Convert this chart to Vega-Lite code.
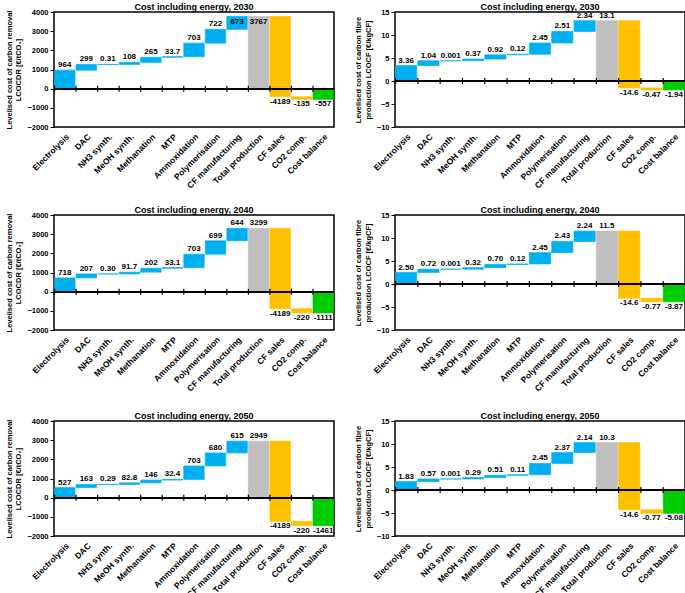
{
"$schema": "https://vega.github.io/schema/vega-lite/v6.json",
"padding": {"left": 4, "top": 2, "right": 0, "bottom": 0},
"config": {
 "font": "Liberation Sans",
 "view": {"stroke": "black", "strokeWidth": 1.5},
 "axis": {"labelFont": "Liberation Sans", "labelFontSize": 7.5, "labelFontWeight": "bold", "labelColor": "black", "titleFont": "Liberation Sans", "titleFontSize": 7.5, "titleFontWeight": "bold", "titleColor": "black", "grid": false, "tickColor": "black", "domainColor": "black", "labelOverlap": false, "labelFlush": false},
 "axisX": {"labelFontSize": 8.5},
 "axisY": {"domain": false, "tickSize": 4, "labelPadding": 2, "titlePadding": 4, "format": "d"},
 "title": {"fontSize": 9, "fontWeight": "bold", "offset": -4, "color": "black", "font": "Liberation Sans"},
 "text": {"font": "Liberation Sans", "fontSize": 8, "fontWeight": "bold", "color": "black"}
},
"datasets": {"d": [
{"panel":"L2030","cat":"Electrolysis","start":0,"end":964,"label":"964","kind":"inc"},
{"panel":"L2030","cat":"DAC","start":964,"end":1263,"label":"299","kind":"inc"},
{"panel":"L2030","cat":"NH3 synth.","start":1263,"end":1263.31,"label":"0.31","kind":"inc"},
{"panel":"L2030","cat":"MeOH synth.","start":1263.31,"end":1371.31,"label":"108","kind":"inc"},
{"panel":"L2030","cat":"Methanation","start":1371.31,"end":1636.31,"label":"265","kind":"inc"},
{"panel":"L2030","cat":"MTP","start":1636.31,"end":1670.01,"label":"33.7","kind":"inc"},
{"panel":"L2030","cat":"Ammoxidation","start":1670.01,"end":2373.01,"label":"703","kind":"inc"},
{"panel":"L2030","cat":"Polymerisation","start":2373.01,"end":3095.01,"label":"722","kind":"inc"},
{"panel":"L2030","cat":"CF manufacturing","start":3095.01,"end":3767,"label":"673","kind":"inc"},
{"panel":"L2030","cat":"Total production","start":0,"end":3767,"label":"3767","kind":"total"},
{"panel":"L2030","cat":"CF sales","start":3767,"end":-422,"label":"-4189","kind":"dec"},
{"panel":"L2030","cat":"CO2 comp.","start":-422,"end":-557,"label":"-135","kind":"dec"},
{"panel":"L2030","cat":"Cost balance","start":0,"end":-557,"label":"-557","kind":"balance"},
{"panel":"R2030","cat":"Electrolysis","start":0,"end":3.36,"label":"3.36","kind":"inc"},
{"panel":"R2030","cat":"DAC","start":3.36,"end":4.4,"label":"1.04","kind":"inc"},
{"panel":"R2030","cat":"NH3 synth.","start":4.4,"end":4.401,"label":"0.001","kind":"inc"},
{"panel":"R2030","cat":"MeOH synth.","start":4.401,"end":4.771,"label":"0.37","kind":"inc"},
{"panel":"R2030","cat":"Methanation","start":4.771,"end":5.691,"label":"0.92","kind":"inc"},
{"panel":"R2030","cat":"MTP","start":5.691,"end":5.811,"label":"0.12","kind":"inc"},
{"panel":"R2030","cat":"Ammoxidation","start":5.811,"end":8.261,"label":"2.45","kind":"inc"},
{"panel":"R2030","cat":"Polymerisation","start":8.261,"end":10.771,"label":"2.51","kind":"inc"},
{"panel":"R2030","cat":"CF manufacturing","start":10.771,"end":13.1,"label":"2.34","kind":"inc"},
{"panel":"R2030","cat":"Total production","start":0,"end":13.1,"label":"13.1","kind":"total"},
{"panel":"R2030","cat":"CF sales","start":13.1,"end":-1.5,"label":"-14.6","kind":"dec"},
{"panel":"R2030","cat":"CO2 comp.","start":-1.5,"end":-1.97,"label":"-0.47","kind":"dec"},
{"panel":"R2030","cat":"Cost balance","start":0,"end":-1.94,"label":"-1.94","kind":"balance"},
{"panel":"L2040","cat":"Electrolysis","start":0,"end":718,"label":"718","kind":"inc"},
{"panel":"L2040","cat":"DAC","start":718,"end":925,"label":"207","kind":"inc"},
{"panel":"L2040","cat":"NH3 synth.","start":925,"end":925.3,"label":"0.30","kind":"inc"},
{"panel":"L2040","cat":"MeOH synth.","start":925.3,"end":1017,"label":"91.7","kind":"inc"},
{"panel":"L2040","cat":"Methanation","start":1017,"end":1219,"label":"202","kind":"inc"},
{"panel":"L2040","cat":"MTP","start":1219,"end":1252.1,"label":"33.1","kind":"inc"},
{"panel":"L2040","cat":"Ammoxidation","start":1252.1,"end":1955.1,"label":"703","kind":"inc"},
{"panel":"L2040","cat":"Polymerisation","start":1955.1,"end":2654.1,"label":"699","kind":"inc"},
{"panel":"L2040","cat":"CF manufacturing","start":2654.1,"end":3299,"label":"644","kind":"inc"},
{"panel":"L2040","cat":"Total production","start":0,"end":3299,"label":"3299","kind":"total"},
{"panel":"L2040","cat":"CF sales","start":3299,"end":-890,"label":"-4189","kind":"dec"},
{"panel":"L2040","cat":"CO2 comp.","start":-890,"end":-1110,"label":"-220","kind":"dec"},
{"panel":"L2040","cat":"Cost balance","start":0,"end":-1111,"label":"-1111","kind":"balance"},
{"panel":"R2040","cat":"Electrolysis","start":0,"end":2.5,"label":"2.50","kind":"inc"},
{"panel":"R2040","cat":"DAC","start":2.5,"end":3.22,"label":"0.72","kind":"inc"},
{"panel":"R2040","cat":"NH3 synth.","start":3.22,"end":3.221,"label":"0.001","kind":"inc"},
{"panel":"R2040","cat":"MeOH synth.","start":3.221,"end":3.541,"label":"0.32","kind":"inc"},
{"panel":"R2040","cat":"Methanation","start":3.541,"end":4.241,"label":"0.70","kind":"inc"},
{"panel":"R2040","cat":"MTP","start":4.241,"end":4.361,"label":"0.12","kind":"inc"},
{"panel":"R2040","cat":"Ammoxidation","start":4.361,"end":6.811,"label":"2.45","kind":"inc"},
{"panel":"R2040","cat":"Polymerisation","start":6.811,"end":9.241,"label":"2.43","kind":"inc"},
{"panel":"R2040","cat":"CF manufacturing","start":9.241,"end":11.5,"label":"2.24","kind":"inc"},
{"panel":"R2040","cat":"Total production","start":0,"end":11.5,"label":"11.5","kind":"total"},
{"panel":"R2040","cat":"CF sales","start":11.5,"end":-3.1,"label":"-14.6","kind":"dec"},
{"panel":"R2040","cat":"CO2 comp.","start":-3.1,"end":-3.87,"label":"-0.77","kind":"dec"},
{"panel":"R2040","cat":"Cost balance","start":0,"end":-3.87,"label":"-3.87","kind":"balance"},
{"panel":"L2050","cat":"Electrolysis","start":0,"end":527,"label":"527","kind":"inc"},
{"panel":"L2050","cat":"DAC","start":527,"end":690,"label":"163","kind":"inc"},
{"panel":"L2050","cat":"NH3 synth.","start":690,"end":690.29,"label":"0.29","kind":"inc"},
{"panel":"L2050","cat":"MeOH synth.","start":690.29,"end":773.09,"label":"82.8","kind":"inc"},
{"panel":"L2050","cat":"Methanation","start":773.09,"end":919.09,"label":"146","kind":"inc"},
{"panel":"L2050","cat":"MTP","start":919.09,"end":951.49,"label":"32.4","kind":"inc"},
{"panel":"L2050","cat":"Ammoxidation","start":951.49,"end":1654.49,"label":"703","kind":"inc"},
{"panel":"L2050","cat":"Polymerisation","start":1654.49,"end":2334.49,"label":"680","kind":"inc"},
{"panel":"L2050","cat":"CF manufacturing","start":2334.49,"end":2949,"label":"615","kind":"inc"},
{"panel":"L2050","cat":"Total production","start":0,"end":2949,"label":"2949","kind":"total"},
{"panel":"L2050","cat":"CF sales","start":2949,"end":-1240,"label":"-4189","kind":"dec"},
{"panel":"L2050","cat":"CO2 comp.","start":-1240,"end":-1460,"label":"-220","kind":"dec"},
{"panel":"L2050","cat":"Cost balance","start":0,"end":-1461,"label":"-1461","kind":"balance"},
{"panel":"R2050","cat":"Electrolysis","start":0,"end":1.83,"label":"1.83","kind":"inc"},
{"panel":"R2050","cat":"DAC","start":1.83,"end":2.4,"label":"0.57","kind":"inc"},
{"panel":"R2050","cat":"NH3 synth.","start":2.4,"end":2.401,"label":"0.001","kind":"inc"},
{"panel":"R2050","cat":"MeOH synth.","start":2.401,"end":2.691,"label":"0.29","kind":"inc"},
{"panel":"R2050","cat":"Methanation","start":2.691,"end":3.201,"label":"0.51","kind":"inc"},
{"panel":"R2050","cat":"MTP","start":3.201,"end":3.311,"label":"0.11","kind":"inc"},
{"panel":"R2050","cat":"Ammoxidation","start":3.311,"end":5.761,"label":"2.45","kind":"inc"},
{"panel":"R2050","cat":"Polymerisation","start":5.761,"end":8.131,"label":"2.37","kind":"inc"},
{"panel":"R2050","cat":"CF manufacturing","start":8.131,"end":10.3,"label":"2.14","kind":"inc"},
{"panel":"R2050","cat":"Total production","start":0,"end":10.3,"label":"10.3","kind":"total"},
{"panel":"R2050","cat":"CF sales","start":10.3,"end":-4.3,"label":"-14.6","kind":"dec"},
{"panel":"R2050","cat":"CO2 comp.","start":-4.3,"end":-5.07,"label":"-0.77","kind":"dec"},
{"panel":"R2050","cat":"Cost balance","start":0,"end":-5.08,"label":"-5.08","kind":"balance"}
]},
"data": {"name": "d"},
"spacing": 14,
"vconcat": [
{"hconcat": [
{"title": "Cost including energy, 2030", "width": 280, "height": 115,
 "transform": [{"filter": "datum.panel == 'L2030'"}],
 "layer": [
  {"mark": {"type": "bar", "strokeWidth": 0.7},
   "encoding": {
    "x": {"field": "cat", "type": "nominal", "sort": ["Electrolysis","DAC","NH3 synth.","MeOH synth.","Methanation","MTP","Ammoxidation","Polymerisation","CF manufacturing","Total production","CF sales","CO2 comp.","Cost balance"], "scale": {"paddingInner": 0.05, "paddingOuter": 0.025}, "axis": {"title": null, "labelAngle": -45, "ticks": false, "domain": false, "labelPadding": 5}},
    "y": {"field": "start", "type": "quantitative", "scale": {"domain": [-2000, 4000], "nice": false}, "title": ["Levelised cost of carbon removal", "LCOCDR [€/tCO₂]"], "axis": {"values": [-2000,-1000,0,1000,2000,3000,4000]}},
    "y2": {"field": "end"},
    "fill": {"field": "kind", "type": "nominal", "scale": {"domain": ["inc","total","dec","balance"], "range": ["#00B0F0","#BFBFBF","#FFC000","#00CC00"]}, "legend": null},
    "stroke": {"field": "kind", "type": "nominal", "scale": {"domain": ["inc","total","dec","balance"], "range": ["#00B0F0","#BFBFBF","#FFC000","#00CC00"]}, "legend": null}
   }},
  {"mark": {"type": "rule", "color": "black", "strokeWidth": 1.5}, "encoding": {"y": {"datum": 0, "type": "quantitative", "title": ["Levelised cost of carbon removal", "LCOCDR [€/tCO₂]"], "axis": {"values": [-2000,-1000,0,1000,2000,3000,4000]}}}},
  {"mark": {"type": "rule", "color": "black", "strokeWidth": 1.2, "yOffset": -3, "y2Offset": 3},
   "encoding": {"x": {"field": "cat", "type": "nominal", "sort": ["Electrolysis","DAC","NH3 synth.","MeOH synth.","Methanation","MTP","Ammoxidation","Polymerisation","CF manufacturing","Total production","CF sales","CO2 comp.","Cost balance"], "bandPosition": 0}, "y": {"datum": 0, "type": "quantitative", "title": ["Levelised cost of carbon removal", "LCOCDR [€/tCO₂]"], "axis": {"values": [-2000,-1000,0,1000,2000,3000,4000]}}, "y2": {"datum": 0}}},
  {"transform": [{"filter": "(datum.kind == 'inc' || datum.kind == 'total') && datum.end < 3500"}],
   "mark": {"type": "text", "baseline": "bottom", "dy": -1},
   "encoding": {"x": {"field": "cat", "type": "nominal", "sort": ["Electrolysis","DAC","NH3 synth.","MeOH synth.","Methanation","MTP","Ammoxidation","Polymerisation","CF manufacturing","Total production","CF sales","CO2 comp.","Cost balance"]}, "y": {"field": "end", "type": "quantitative", "title": ["Levelised cost of carbon removal", "LCOCDR [€/tCO₂]"], "axis": {"values": [-2000,-1000,0,1000,2000,3000,4000]}}, "text": {"field": "label"}}},
  {"transform": [{"filter": "(datum.kind == 'inc' || datum.kind == 'total') && datum.end >= 3500"}],
   "mark": {"type": "text", "baseline": "top", "dy": 2},
   "encoding": {"x": {"field": "cat", "type": "nominal", "sort": ["Electrolysis","DAC","NH3 synth.","MeOH synth.","Methanation","MTP","Ammoxidation","Polymerisation","CF manufacturing","Total production","CF sales","CO2 comp.","Cost balance"]}, "y": {"field": "end", "type": "quantitative", "title": ["Levelised cost of carbon removal", "LCOCDR [€/tCO₂]"], "axis": {"values": [-2000,-1000,0,1000,2000,3000,4000]}}, "text": {"field": "label"}}},
  {"transform": [{"filter": "datum.kind == 'dec' || datum.kind == 'balance'"}],
   "mark": {"type": "text", "baseline": "top", "dy": 1},
   "encoding": {"x": {"field": "cat", "type": "nominal", "sort": ["Electrolysis","DAC","NH3 synth.","MeOH synth.","Methanation","MTP","Ammoxidation","Polymerisation","CF manufacturing","Total production","CF sales","CO2 comp.","Cost balance"]}, "y": {"field": "end", "type": "quantitative", "title": ["Levelised cost of carbon removal", "LCOCDR [€/tCO₂]"], "axis": {"values": [-2000,-1000,0,1000,2000,3000,4000]}}, "text": {"field": "label"}}}
 ]},
{"title": "Cost including energy, 2030", "width": 290, "height": 115,
 "transform": [{"filter": "datum.panel == 'R2030'"}],
 "layer": [
  {"mark": {"type": "bar", "strokeWidth": 0.7},
   "encoding": {
    "x": {"field": "cat", "type": "nominal", "sort": ["Electrolysis","DAC","NH3 synth.","MeOH synth.","Methanation","MTP","Ammoxidation","Polymerisation","CF manufacturing","Total production","CF sales","CO2 comp.","Cost balance"], "scale": {"paddingInner": 0.05, "paddingOuter": 0.025}, "axis": {"title": null, "labelAngle": -45, "ticks": false, "domain": false, "labelPadding": 5}},
    "y": {"field": "start", "type": "quantitative", "scale": {"domain": [-10, 15], "nice": false}, "title": ["Levelised cost of carbon fibre", "production LCOCF [€/kgCF]"], "axis": {"values": [-10,-5,0,5,10,15]}},
    "y2": {"field": "end"},
    "fill": {"field": "kind", "type": "nominal", "scale": {"domain": ["inc","total","dec","balance"], "range": ["#00B0F0","#BFBFBF","#FFC000","#00CC00"]}, "legend": null},
    "stroke": {"field": "kind", "type": "nominal", "scale": {"domain": ["inc","total","dec","balance"], "range": ["#00B0F0","#BFBFBF","#FFC000","#00CC00"]}, "legend": null}
   }},
  {"mark": {"type": "rule", "color": "black", "strokeWidth": 1.5}, "encoding": {"y": {"datum": 0, "type": "quantitative", "title": ["Levelised cost of carbon fibre", "production LCOCF [€/kgCF]"], "axis": {"values": [-10,-5,0,5,10,15]}}}},
  {"mark": {"type": "rule", "color": "black", "strokeWidth": 1.2, "yOffset": -3, "y2Offset": 3},
   "encoding": {"x": {"field": "cat", "type": "nominal", "sort": ["Electrolysis","DAC","NH3 synth.","MeOH synth.","Methanation","MTP","Ammoxidation","Polymerisation","CF manufacturing","Total production","CF sales","CO2 comp.","Cost balance"], "bandPosition": 0}, "y": {"datum": 0, "type": "quantitative", "title": ["Levelised cost of carbon fibre", "production LCOCF [€/kgCF]"], "axis": {"values": [-10,-5,0,5,10,15]}}, "y2": {"datum": 0}}},
  {"transform": [{"filter": "datum.kind == 'inc' || datum.kind == 'total'"}],
   "mark": {"type": "text", "baseline": "bottom", "dy": -1},
   "encoding": {"x": {"field": "cat", "type": "nominal", "sort": ["Electrolysis","DAC","NH3 synth.","MeOH synth.","Methanation","MTP","Ammoxidation","Polymerisation","CF manufacturing","Total production","CF sales","CO2 comp.","Cost balance"]}, "y": {"field": "end", "type": "quantitative", "title": ["Levelised cost of carbon fibre", "production LCOCF [€/kgCF]"], "axis": {"values": [-10,-5,0,5,10,15]}}, "text": {"field": "label"}}},
  {"transform": [{"filter": "datum.kind == 'dec' || datum.kind == 'balance'"}],
   "mark": {"type": "text", "baseline": "top", "dy": 1},
   "encoding": {"x": {"field": "cat", "type": "nominal", "sort": ["Electrolysis","DAC","NH3 synth.","MeOH synth.","Methanation","MTP","Ammoxidation","Polymerisation","CF manufacturing","Total production","CF sales","CO2 comp.","Cost balance"]}, "y": {"field": "end", "type": "quantitative", "title": ["Levelised cost of carbon fibre", "production LCOCF [€/kgCF]"], "axis": {"values": [-10,-5,0,5,10,15]}}, "text": {"field": "label"}}}
 ]}
], "spacing": 18},
{"spacing": 17, "vconcat": [
{"hconcat": [
{"title": "Cost including energy, 2040", "width": 280, "height": 115,
 "transform": [{"filter": "datum.panel == 'L2040'"}],
 "layer": [
  {"mark": {"type": "bar", "strokeWidth": 0.7},
   "encoding": {
    "x": {"field": "cat", "type": "nominal", "sort": ["Electrolysis","DAC","NH3 synth.","MeOH synth.","Methanation","MTP","Ammoxidation","Polymerisation","CF manufacturing","Total production","CF sales","CO2 comp.","Cost balance"], "scale": {"paddingInner": 0.05, "paddingOuter": 0.025}, "axis": {"title": null, "labelAngle": -45, "ticks": false, "domain": false, "labelPadding": 5}},
    "y": {"field": "start", "type": "quantitative", "scale": {"domain": [-2000, 4000], "nice": false}, "title": ["Levelised cost of carbon removal", "LCOCDR [€/tCO₂]"], "axis": {"values": [-2000,-1000,0,1000,2000,3000,4000]}},
    "y2": {"field": "end"},
    "fill": {"field": "kind", "type": "nominal", "scale": {"domain": ["inc","total","dec","balance"], "range": ["#00B0F0","#BFBFBF","#FFC000","#00CC00"]}, "legend": null},
    "stroke": {"field": "kind", "type": "nominal", "scale": {"domain": ["inc","total","dec","balance"], "range": ["#00B0F0","#BFBFBF","#FFC000","#00CC00"]}, "legend": null}
   }},
  {"mark": {"type": "rule", "color": "black", "strokeWidth": 1.5}, "encoding": {"y": {"datum": 0, "type": "quantitative", "title": ["Levelised cost of carbon removal", "LCOCDR [€/tCO₂]"], "axis": {"values": [-2000,-1000,0,1000,2000,3000,4000]}}}},
  {"mark": {"type": "rule", "color": "black", "strokeWidth": 1.2, "yOffset": -3, "y2Offset": 3},
   "encoding": {"x": {"field": "cat", "type": "nominal", "sort": ["Electrolysis","DAC","NH3 synth.","MeOH synth.","Methanation","MTP","Ammoxidation","Polymerisation","CF manufacturing","Total production","CF sales","CO2 comp.","Cost balance"], "bandPosition": 0}, "y": {"datum": 0, "type": "quantitative", "title": ["Levelised cost of carbon removal", "LCOCDR [€/tCO₂]"], "axis": {"values": [-2000,-1000,0,1000,2000,3000,4000]}}, "y2": {"datum": 0}}},
  {"transform": [{"filter": "datum.kind == 'inc' || datum.kind == 'total'"}],
   "mark": {"type": "text", "baseline": "bottom", "dy": -1},
   "encoding": {"x": {"field": "cat", "type": "nominal", "sort": ["Electrolysis","DAC","NH3 synth.","MeOH synth.","Methanation","MTP","Ammoxidation","Polymerisation","CF manufacturing","Total production","CF sales","CO2 comp.","Cost balance"]}, "y": {"field": "end", "type": "quantitative", "title": ["Levelised cost of carbon removal", "LCOCDR [€/tCO₂]"], "axis": {"values": [-2000,-1000,0,1000,2000,3000,4000]}}, "text": {"field": "label"}}},
  {"transform": [{"filter": "datum.kind == 'dec' || datum.kind == 'balance'"}],
   "mark": {"type": "text", "baseline": "top", "dy": 1},
   "encoding": {"x": {"field": "cat", "type": "nominal", "sort": ["Electrolysis","DAC","NH3 synth.","MeOH synth.","Methanation","MTP","Ammoxidation","Polymerisation","CF manufacturing","Total production","CF sales","CO2 comp.","Cost balance"]}, "y": {"field": "end", "type": "quantitative", "title": ["Levelised cost of carbon removal", "LCOCDR [€/tCO₂]"], "axis": {"values": [-2000,-1000,0,1000,2000,3000,4000]}}, "text": {"field": "label"}}}
 ]},
{"title": "Cost including energy, 2040", "width": 290, "height": 115,
 "transform": [{"filter": "datum.panel == 'R2040'"}],
 "layer": [
  {"mark": {"type": "bar", "strokeWidth": 0.7},
   "encoding": {
    "x": {"field": "cat", "type": "nominal", "sort": ["Electrolysis","DAC","NH3 synth.","MeOH synth.","Methanation","MTP","Ammoxidation","Polymerisation","CF manufacturing","Total production","CF sales","CO2 comp.","Cost balance"], "scale": {"paddingInner": 0.05, "paddingOuter": 0.025}, "axis": {"title": null, "labelAngle": -45, "ticks": false, "domain": false, "labelPadding": 5}},
    "y": {"field": "start", "type": "quantitative", "scale": {"domain": [-10, 15], "nice": false}, "title": ["Levelised cost of carbon fibre", "production LCOCF [€/kgCF]"], "axis": {"values": [-10,-5,0,5,10,15]}},
    "y2": {"field": "end"},
    "fill": {"field": "kind", "type": "nominal", "scale": {"domain": ["inc","total","dec","balance"], "range": ["#00B0F0","#BFBFBF","#FFC000","#00CC00"]}, "legend": null},
    "stroke": {"field": "kind", "type": "nominal", "scale": {"domain": ["inc","total","dec","balance"], "range": ["#00B0F0","#BFBFBF","#FFC000","#00CC00"]}, "legend": null}
   }},
  {"mark": {"type": "rule", "color": "black", "strokeWidth": 1.5}, "encoding": {"y": {"datum": 0, "type": "quantitative", "title": ["Levelised cost of carbon fibre", "production LCOCF [€/kgCF]"], "axis": {"values": [-10,-5,0,5,10,15]}}}},
  {"mark": {"type": "rule", "color": "black", "strokeWidth": 1.2, "yOffset": -3, "y2Offset": 3},
   "encoding": {"x": {"field": "cat", "type": "nominal", "sort": ["Electrolysis","DAC","NH3 synth.","MeOH synth.","Methanation","MTP","Ammoxidation","Polymerisation","CF manufacturing","Total production","CF sales","CO2 comp.","Cost balance"], "bandPosition": 0}, "y": {"datum": 0, "type": "quantitative", "title": ["Levelised cost of carbon fibre", "production LCOCF [€/kgCF]"], "axis": {"values": [-10,-5,0,5,10,15]}}, "y2": {"datum": 0}}},
  {"transform": [{"filter": "datum.kind == 'inc' || datum.kind == 'total'"}],
   "mark": {"type": "text", "baseline": "bottom", "dy": -1},
   "encoding": {"x": {"field": "cat", "type": "nominal", "sort": ["Electrolysis","DAC","NH3 synth.","MeOH synth.","Methanation","MTP","Ammoxidation","Polymerisation","CF manufacturing","Total production","CF sales","CO2 comp.","Cost balance"]}, "y": {"field": "end", "type": "quantitative", "title": ["Levelised cost of carbon fibre", "production LCOCF [€/kgCF]"], "axis": {"values": [-10,-5,0,5,10,15]}}, "text": {"field": "label"}}},
  {"transform": [{"filter": "datum.kind == 'dec' || datum.kind == 'balance'"}],
   "mark": {"type": "text", "baseline": "top", "dy": 1},
   "encoding": {"x": {"field": "cat", "type": "nominal", "sort": ["Electrolysis","DAC","NH3 synth.","MeOH synth.","Methanation","MTP","Ammoxidation","Polymerisation","CF manufacturing","Total production","CF sales","CO2 comp.","Cost balance"]}, "y": {"field": "end", "type": "quantitative", "title": ["Levelised cost of carbon fibre", "production LCOCF [€/kgCF]"], "axis": {"values": [-10,-5,0,5,10,15]}}, "text": {"field": "label"}}}
 ]}
], "spacing": 18},
{"hconcat": [
{"title": "Cost including energy, 2050", "width": 280, "height": 115,
 "transform": [{"filter": "datum.panel == 'L2050'"}],
 "layer": [
  {"mark": {"type": "bar", "strokeWidth": 0.7},
   "encoding": {
    "x": {"field": "cat", "type": "nominal", "sort": ["Electrolysis","DAC","NH3 synth.","MeOH synth.","Methanation","MTP","Ammoxidation","Polymerisation","CF manufacturing","Total production","CF sales","CO2 comp.","Cost balance"], "scale": {"paddingInner": 0.05, "paddingOuter": 0.025}, "axis": {"title": null, "labelAngle": -45, "ticks": false, "domain": false, "labelPadding": 5}},
    "y": {"field": "start", "type": "quantitative", "scale": {"domain": [-2000, 4000], "nice": false}, "title": ["Levelised cost of carbon removal", "LCOCDR [€/tCO₂]"], "axis": {"values": [-2000,-1000,0,1000,2000,3000,4000]}},
    "y2": {"field": "end"},
    "fill": {"field": "kind", "type": "nominal", "scale": {"domain": ["inc","total","dec","balance"], "range": ["#00B0F0","#BFBFBF","#FFC000","#00CC00"]}, "legend": null},
    "stroke": {"field": "kind", "type": "nominal", "scale": {"domain": ["inc","total","dec","balance"], "range": ["#00B0F0","#BFBFBF","#FFC000","#00CC00"]}, "legend": null}
   }},
  {"mark": {"type": "rule", "color": "black", "strokeWidth": 1.5}, "encoding": {"y": {"datum": 0, "type": "quantitative", "title": ["Levelised cost of carbon removal", "LCOCDR [€/tCO₂]"], "axis": {"values": [-2000,-1000,0,1000,2000,3000,4000]}}}},
  {"mark": {"type": "rule", "color": "black", "strokeWidth": 1.2, "yOffset": -3, "y2Offset": 3},
   "encoding": {"x": {"field": "cat", "type": "nominal", "sort": ["Electrolysis","DAC","NH3 synth.","MeOH synth.","Methanation","MTP","Ammoxidation","Polymerisation","CF manufacturing","Total production","CF sales","CO2 comp.","Cost balance"], "bandPosition": 0}, "y": {"datum": 0, "type": "quantitative", "title": ["Levelised cost of carbon removal", "LCOCDR [€/tCO₂]"], "axis": {"values": [-2000,-1000,0,1000,2000,3000,4000]}}, "y2": {"datum": 0}}},
  {"transform": [{"filter": "datum.kind == 'inc' || datum.kind == 'total'"}],
   "mark": {"type": "text", "baseline": "bottom", "dy": -1},
   "encoding": {"x": {"field": "cat", "type": "nominal", "sort": ["Electrolysis","DAC","NH3 synth.","MeOH synth.","Methanation","MTP","Ammoxidation","Polymerisation","CF manufacturing","Total production","CF sales","CO2 comp.","Cost balance"]}, "y": {"field": "end", "type": "quantitative", "title": ["Levelised cost of carbon removal", "LCOCDR [€/tCO₂]"], "axis": {"values": [-2000,-1000,0,1000,2000,3000,4000]}}, "text": {"field": "label"}}},
  {"transform": [{"filter": "datum.kind == 'dec' || datum.kind == 'balance'"}],
   "mark": {"type": "text", "baseline": "top", "dy": 1},
   "encoding": {"x": {"field": "cat", "type": "nominal", "sort": ["Electrolysis","DAC","NH3 synth.","MeOH synth.","Methanation","MTP","Ammoxidation","Polymerisation","CF manufacturing","Total production","CF sales","CO2 comp.","Cost balance"]}, "y": {"field": "end", "type": "quantitative", "title": ["Levelised cost of carbon removal", "LCOCDR [€/tCO₂]"], "axis": {"values": [-2000,-1000,0,1000,2000,3000,4000]}}, "text": {"field": "label"}}}
 ]},
{"title": "Cost including energy, 2050", "width": 290, "height": 115,
 "transform": [{"filter": "datum.panel == 'R2050'"}],
 "layer": [
  {"mark": {"type": "bar", "strokeWidth": 0.7},
   "encoding": {
    "x": {"field": "cat", "type": "nominal", "sort": ["Electrolysis","DAC","NH3 synth.","MeOH synth.","Methanation","MTP","Ammoxidation","Polymerisation","CF manufacturing","Total production","CF sales","CO2 comp.","Cost balance"], "scale": {"paddingInner": 0.05, "paddingOuter": 0.025}, "axis": {"title": null, "labelAngle": -45, "ticks": false, "domain": false, "labelPadding": 5}},
    "y": {"field": "start", "type": "quantitative", "scale": {"domain": [-10, 15], "nice": false}, "title": ["Levelised cost of carbon fibre", "production LCOCF [€/kgCF]"], "axis": {"values": [-10,-5,0,5,10,15]}},
    "y2": {"field": "end"},
    "fill": {"field": "kind", "type": "nominal", "scale": {"domain": ["inc","total","dec","balance"], "range": ["#00B0F0","#BFBFBF","#FFC000","#00CC00"]}, "legend": null},
    "stroke": {"field": "kind", "type": "nominal", "scale": {"domain": ["inc","total","dec","balance"], "range": ["#00B0F0","#BFBFBF","#FFC000","#00CC00"]}, "legend": null}
   }},
  {"mark": {"type": "rule", "color": "black", "strokeWidth": 1.5}, "encoding": {"y": {"datum": 0, "type": "quantitative", "title": ["Levelised cost of carbon fibre", "production LCOCF [€/kgCF]"], "axis": {"values": [-10,-5,0,5,10,15]}}}},
  {"mark": {"type": "rule", "color": "black", "strokeWidth": 1.2, "yOffset": -3, "y2Offset": 3},
   "encoding": {"x": {"field": "cat", "type": "nominal", "sort": ["Electrolysis","DAC","NH3 synth.","MeOH synth.","Methanation","MTP","Ammoxidation","Polymerisation","CF manufacturing","Total production","CF sales","CO2 comp.","Cost balance"], "bandPosition": 0}, "y": {"datum": 0, "type": "quantitative", "title": ["Levelised cost of carbon fibre", "production LCOCF [€/kgCF]"], "axis": {"values": [-10,-5,0,5,10,15]}}, "y2": {"datum": 0}}},
  {"transform": [{"filter": "datum.kind == 'inc' || datum.kind == 'total'"}],
   "mark": {"type": "text", "baseline": "bottom", "dy": -1},
   "encoding": {"x": {"field": "cat", "type": "nominal", "sort": ["Electrolysis","DAC","NH3 synth.","MeOH synth.","Methanation","MTP","Ammoxidation","Polymerisation","CF manufacturing","Total production","CF sales","CO2 comp.","Cost balance"]}, "y": {"field": "end", "type": "quantitative", "title": ["Levelised cost of carbon fibre", "production LCOCF [€/kgCF]"], "axis": {"values": [-10,-5,0,5,10,15]}}, "text": {"field": "label"}}},
  {"transform": [{"filter": "datum.kind == 'dec' || datum.kind == 'balance'"}],
   "mark": {"type": "text", "baseline": "top", "dy": 1},
   "encoding": {"x": {"field": "cat", "type": "nominal", "sort": ["Electrolysis","DAC","NH3 synth.","MeOH synth.","Methanation","MTP","Ammoxidation","Polymerisation","CF manufacturing","Total production","CF sales","CO2 comp.","Cost balance"]}, "y": {"field": "end", "type": "quantitative", "title": ["Levelised cost of carbon fibre", "production LCOCF [€/kgCF]"], "axis": {"values": [-10,-5,0,5,10,15]}}, "text": {"field": "label"}}}
 ]}
], "spacing": 18}
]}
]
}
